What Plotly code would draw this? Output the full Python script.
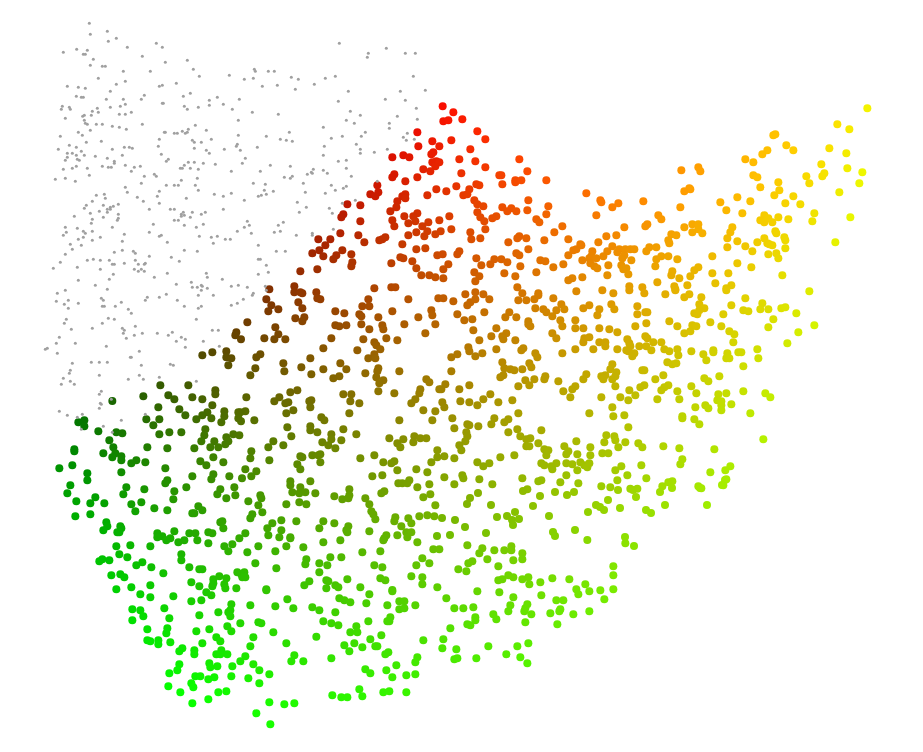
import numpy as np
import plotly.graph_objects as go

grey_a = [(148,40),(202,64),(151,73),(229,85),(205,94),(349,100),(262,112),(367,112),(110,118),(142,121),(70,127),(130,133),(136,133),(307,139),(160,148),(376,157),(442,151),(151,166),(187,169),(196,169),(460,178),(250,184),(331,184),(478,199),(568,196),(175,205),(256,214),(409,220),(229,223),(358,229),(367,226),(82,229),(115,232),(136,235),(211,244),(451,250),(313,256),(430,259),(532,262),(109,259),(124,262),(130,262),(199,268),(250,268),(304,268),(508,271),(598,268),(256,283),(367,280),(370,280),(550,283),(508,286),(67,289),(88,292),(241,289),(211,292),(172,295),(433,289),(442,298),(475,292),(577,298),(64,298),(91,298),(157,304),(175,307),(274,307),(238,313),(256,313),(128,319),(133,316),(154,316),(76,325),(133,331),(595,331),(136,340),(142,343),(169,343),(187,343),(307,343),(466,346),(217,349),(238,352),(445,358),(259,358),(151,361),(499,361),(115,367),(373,367),(376,367),(403,370),(412,370),(427,364),(436,370),(442,367),(127,376),(61,379),(595,376),(358,388),(514,388),(457,391),(463,397),(484,397),(139,397),(184,394),(592,403),(589,409),(88,406),(109,412),(355,409),(253,412),(268,412),(277,415),(217,418),(463,415),(553,418),(55,418),(499,421),(124,424),(82,430),(97,430),(508,430),(364,433),(109,436),(133,436),(166,439),(247,436),(82,442),(202,445),(385,448),(76,451),(112,448),(118,451),(379,454),(223,454),(223,460),(445,457),(463,457),(490,460),(526,463),(109,469),(256,466),(187,469),(205,472),(214,472),(283,472),(301,469),(433,466),(421,475),(427,475),(451,475),(475,478),(70,478),(97,475),(142,475),(274,484),(574,484),(148,496),(343,493),(349,499),(313,499),(46,508),(76,505),(472,505),(106,514),(424,511),(304,520),(379,526),(403,526),(415,526),(466,526),(256,532),(475,541),(262,547),(358,544),(169,556),(193,553),(523,553),(574,550),(550,559),(352,559),(196,565),(292,562),(439,565),(157,574),(310,574),(358,580),(139,586),(190,586),(235,583),(220,589),(211,592),(133,595),(202,598),(211,598),(328,598),(391,598),(403,598),(550,598)]
grey_b = [(103,19),(151,10),(178,4),(202,7),(235,13),(235,25),(232,31),(157,28),(190,22),(154,40),(430,7),(424,13),(433,16),(424,19),(457,7),(484,13),(496,7),(451,22),(403,31),(415,31),(340,43),(433,46),(490,43),(76,52),(112,55),(217,52),(157,64),(130,64),(136,70),(79,67),(70,76),(253,73),(328,67),(469,52),(592,64),(478,79),(514,82),(532,79),(130,82),(115,88),(181,82),(157,91),(247,94),(358,79),(364,76),(382,97),(556,88),(571,88),(520,100),(91,103),(124,106),(97,118),(247,121),(223,127),(280,124),(286,130),(433,121),(472,124),(76,133),(328,139),(394,142),(142,151),(160,148),(181,151),(208,151),(286,151),(418,154),(61,157),(253,160),(217,163),(223,163),(295,163),(316,160),(313,163),(112,172),(40,175),(181,178),(283,178),(304,178),(295,184),(313,184),(220,193),(382,190),(499,190),(502,202),(343,202),(208,208),(115,211),(547,208),(454,217),(409,223),(166,226),(484,226),(487,229),(457,232),(472,232),(502,235),(484,241),(574,229),(595,226),(202,238),(76,241),(52,250),(379,253),(475,256),(520,256),(322,262),(358,262),(184,265),(190,271),(316,271),(412,271),(49,274),(85,271),(73,283),(115,280),(244,277),(592,280),(574,286),(187,289),(193,289),(226,289),(433,289),(484,289),(475,295),(85,295),(265,298),(274,310),(205,325),(223,328),(469,328),(79,328),(73,340),(187,340),(286,349),(94,358),(157,355),(247,355),(253,361),(517,361),(535,361),(250,370),(307,370),(352,370),(397,367),(283,376),(385,376),(424,382),(58,382),(259,385),(436,388),(409,394),(490,394),(49,400),(106,400),(199,409),(436,412),(538,409),(22,415),(16,418),(298,424),(52,430),(271,442),(274,442),(154,457),(178,457),(202,457),(97,460),(304,466),(391,463),(400,466),(91,481),(88,490),(178,496),(298,496),(358,502),(70,505),(265,508),(310,508),(91,514),(64,523),(103,523),(469,514),(184,544),(178,553),(214,568),(181,580),(184,583),(178,595)]
grey_c = [(298,40),(439,55),(385,70),(382,82),(496,70),(526,70),(43,118),(46,124),(85,124),(103,124),(13,148),(40,145),(154,142),(175,148),(256,145),(286,139),(520,139),(67,169),(112,166),(223,163),(166,178),(325,184),(481,184),(556,181),(436,208),(295,214),(496,211),(529,235),(37,247),(115,253),(331,244),(361,256),(472,259),(319,271),(532,268),(343,280),(448,280),(448,295),(250,292),(148,307),(376,307),(502,310),(79,319),(307,319),(364,319),(490,322),(121,328),(139,331),(157,334),(274,325),(499,331),(523,328),(349,343),(52,352),(253,349),(361,358),(442,358),(361,370),(403,367),(1,361),(250,376),(16,385),(295,394),(319,391),(7,400),(91,406),(151,409),(61,424),(250,421),(319,415),(220,418),(214,427),(217,430),(262,430),(202,433),(133,442),(157,439),(151,445),(334,439),(40,460),(76,463),(190,460),(412,454),(274,466),(319,469),(310,475),(73,481),(286,481),(100,484),(196,487),(256,490),(55,499),(64,496),(79,493),(13,511),(346,511),(172,517),(307,520),(199,532),(268,535),(178,547),(277,550),(22,574),(28,586),(130,577),(115,586),(13,592),(280,598)]
grey_d = [(34,10),(103,7),(121,4),(169,16),(217,10),(217,16),(55,46),(109,64),(136,64),(55,88),(61,88),(79,106),(85,127),(55,133),(22,172),(76,169),(79,181),(40,190),(37,196),(10,208)]
grey_e = [(58,34),(82,46),(112,52),(127,43),(124,88),(244,61),(316,43),(190,79),(217,97)]

# coloured points, same reading
dots_a = [(589,367),(586,376),(559,424),(517,427),(487,436),(559,442),(574,445),(565,466),(361,526),(445,526),(526,541),(526,553),(385,556),(310,559),(457,562),(487,568),(403,568)]
dots_b = [(532,307),(577,334),(535,349),(598,349),(580,367),(574,373),(457,382),(490,376),(508,382),(589,394),(577,397),(598,397),(586,409),(550,418),(571,424),(463,433),(457,442),(532,442),(496,454),(412,466),(589,478),(391,493),(415,487),(406,499),(487,499),(496,493),(496,505),(562,496),(472,514),(322,523),(361,526),(469,532),(451,544),(532,550),(520,559),(493,559),(310,553),(304,562),(457,571),(526,574),(565,577),(361,574),(505,580),(598,571),(463,589),(547,589)]
dots_c = [(235,28),(271,28),(301,10),(355,16),(373,37),(418,31),(427,28),(436,22),(505,16),(529,7),(553,19),(562,4),(586,13),(487,43),(256,46),(217,70),(238,61),(307,61),(250,79),(289,76),(334,73),(280,88),(529,58),(556,55),(592,76),(481,82),(490,85),(337,97),(334,109),(454,100),(517,94),(181,124),(232,118),(529,115),(544,136),(568,136),(586,142),(88,178),(163,169),(163,187),(181,187),(187,190),(229,187),(403,175),(454,172),(466,172),(79,208),(232,205),(241,208),(385,208),(505,208),(595,205),(94,226),(175,217),(367,229),(388,229),(187,235),(85,244),(115,238),(286,244),(313,250),(457,244),(574,241),(358,253),(364,259),(577,256),(415,262),(535,262),(193,262),(166,265),(187,274),(22,277),(364,283),(493,283),(586,283),(286,286),(298,289),(319,286),(427,286),(430,298),(106,292),(388,298),(115,313),(556,310),(73,325),(103,328),(136,328),(3,328),(274,325),(370,328),(439,325),(472,331),(403,337),(409,346),(250,355),(352,361),(421,358),(61,373),(49,382),(403,373),(211,385),(385,385),(406,385),(130,400),(301,400),(46,415),(184,412),(250,418),(319,418),(415,415),(412,424),(133,424),(478,424),(376,430),(31,436),(214,433),(298,439),(280,445),(409,442),(430,451),(418,460),(559,448),(568,457),(415,484),(463,490),(172,481),(151,487),(310,493),(334,493),(541,478),(538,490),(598,478),(19,502),(118,502),(103,514),(145,517),(136,520),(214,511),(208,514),(331,514),(526,508),(514,520),(358,520),(211,532),(160,541),(139,550),(328,550),(550,541),(586,544),(16,544),(1,547),(43,571),(3,574),(244,562),(253,571),(478,571),(577,571)]
dots_d = [(8,49),(40,67),(10,94),(25,91),(67,88),(112,124),(136,148),(34,151),(91,178),(238,208),(58,208),(106,214),(136,232),(262,244),(64,250),(178,256),(184,256),(226,271),(226,277),(244,271),(319,271),(187,283),(109,283),(118,286),(49,289),(88,298),(19,304),(70,316),(82,313),(439,310),(481,331),(484,337),(535,340),(517,352),(610,334),(265,331),(103,331),(112,343),(130,349),(187,352),(214,355),(325,349),(202,364),(229,364),(262,361),(112,367),(319,373),(469,376),(28,379),(121,382),(169,379),(157,385),(289,388),(298,397),(133,394),(655,376),(367,409),(553,412),(622,403),(616,409),(136,418),(34,418),(2,424),(91,427),(343,427),(238,439),(232,445),(259,445),(499,439),(529,436),(121,445),(94,448),(385,448),(313,451),(205,457),(475,457),(421,463),(424,466),(265,478),(409,478),(400,481),(517,469),(457,484),(502,484),(538,478),(556,478),(571,478),(583,478),(628,472),(619,484),(649,472),(58,484),(52,493),(8,493),(229,490),(238,496),(385,496),(490,499),(532,487),(553,496),(109,505),(163,508),(184,508),(202,517),(301,511),(316,514),(427,511),(448,505),(454,499),(469,505),(547,505),(574,511),(649,508),(25,523),(124,526),(151,523),(241,529),(340,532),(370,523),(451,520),(463,529),(472,535),(505,526),(544,526),(550,538),(559,535),(646,529),(10,538),(103,547),(193,550),(289,547),(565,553),(502,556),(118,559),(226,559),(427,562),(397,565),(385,571),(10,565),(106,574),(652,577),(232,592),(568,589),(607,592)]
dots_e = [(622,55),(532,103),(568,118),(346,133),(340,136),(379,166),(322,181),(400,181),(508,175),(307,193),(559,190),(256,208),(280,217),(484,223),(115,232),(64,241),(121,244),(562,235),(607,247),(493,250),(487,259),(439,259),(280,256),(292,262),(448,280),(355,277),(598,280),(301,292),(88,295),(91,298),(73,304),(538,307),(358,301),(343,316),(400,319),(232,322),(181,337),(271,334),(376,340),(421,343),(61,352),(199,361),(247,370),(463,370),(313,376),(355,382),(385,388),(571,382),(4,388),(301,391),(313,397),(325,385),(337,397),(457,394),(97,403),(115,403),(73,412),(217,412),(115,418),(211,427),(127,430),(97,427),(346,424),(349,430),(34,433),(49,436),(202,445),(313,445),(373,442),(376,451),(25,451),(28,460),(232,454),(292,457),(526,457),(256,469),(322,460),(328,463),(337,466),(202,472),(376,475),(277,484),(325,493),(349,490),(355,505),(4,499),(25,499),(157,499),(52,508),(232,520),(274,532),(115,532),(103,541),(37,544),(34,556),(157,550),(205,550),(91,559),(58,565),(367,556),(166,580),(214,586),(43,589),(82,586),(199,595),(46,598)]
dots_f = [(10,25),(40,34),(76,13),(106,7),(130,13),(148,28),(247,10),(295,10),(295,16),(409,4),(487,1),(520,10),(568,1),(613,10),(340,25),(235,31),(259,31),(283,28),(91,37),(82,46),(106,28),(364,43),(373,58),(286,55),(349,61),(310,58),(319,67),(430,55),(448,46),(514,43),(523,58),(592,49),(478,58),(472,76),(616,67),(622,67),(592,73),(208,67),(196,82),(229,82),(52,73),(133,67),(337,79),(361,91),(406,91),(73,91),(97,88),(265,94),(265,103),(271,109),(367,109),(406,115),(430,115),(478,115),(508,118),(586,109),(619,100),(169,115),(100,121),(532,127),(337,130),(199,130),(187,139),(190,148),(154,139),(349,145),(433,145),(448,142),(430,157),(118,151),(226,151),(478,157),(496,157),(496,169),(562,148),(568,160),(616,139),(622,145),(640,157),(571,169),(598,169),(619,169),(85,172),(88,184),(169,178),(250,175),(244,181),(367,190),(406,178),(460,178),(532,178),(559,181),(565,184),(583,190),(577,199),(634,181),(127,190),(52,193),(34,202),(106,199),(286,190),(292,202),(187,217),(268,220),(274,232),(517,223),(193,235),(211,238),(223,241),(247,238),(511,238),(607,241),(613,241),(34,244),(529,247),(190,256),(181,262),(316,259),(439,253),(430,268),(496,256),(484,259),(490,268),(526,259),(517,268),(313,268),(256,271),(283,268),(355,274),(646,268),(16,283),(88,286),(268,286),(235,289),(526,289),(4,298),(58,298),(406,289),(397,298),(613,286),(601,292),(568,301),(370,304),(151,313),(586,316),(391,322),(484,322),(541,322),(130,328),(217,331),(565,331),(652,328),(61,334),(88,337),(175,337),(7,337),(13,352),(112,346),(517,352),(235,370),(448,370),(553,376),(520,379),(37,385),(163,385),(205,388),(193,397),(82,403),(88,406),(154,403),(115,409),(43,415),(232,418),(304,421),(565,412),(79,427),(205,427),(82,439),(241,439),(499,436),(523,439),(271,445),(259,448),(76,454),(409,454),(493,457),(526,451),(556,457),(295,460),(595,460),(58,466),(259,469),(268,469),(373,469),(451,472),(607,472),(535,472),(64,481),(313,478),(325,481),(385,484),(379,493),(412,493),(487,490),(505,490),(319,496),(451,496),(13,499),(181,502),(223,496),(43,505),(112,517),(148,520),(130,529),(304,520),(313,526),(349,520),(379,520),(397,523),(421,517),(433,526),(442,532),(448,520),(334,529),(337,538),(544,529),(604,526),(412,541),(526,541),(379,556),(562,556),(13,562),(67,556),(70,565),(118,568),(247,565),(619,565),(304,571),(295,574),(532,571),(361,577),(415,580),(43,583),(157,583),(484,589),(511,592),(262,598),(571,596),(592,596)]
dots_g = [(16,13),(46,1),(73,22),(88,13),(124,22),(199,1),(256,25),(448,4),(118,43),(214,46),(307,40),(133,55),(301,58),(325,58),(250,61),(265,64),(364,55),(376,52),(409,70),(103,70),(112,73),(118,61),(190,73),(340,88),(28,94),(52,109),(97,106),(109,109),(151,97),(184,109),(325,112),(463,106),(73,130),(91,124),(208,124),(223,133),(415,127),(4,157),(220,157),(382,160),(13,178),(28,184),(52,178),(94,184),(130,193),(160,181),(160,187),(292,178),(202,190),(235,187),(244,187),(55,196),(139,211),(199,205),(208,205),(295,205),(22,217),(37,223),(49,220),(250,229),(10,256),(178,259),(133,265),(145,274),(25,286),(94,289),(13,292),(4,301),(52,304),(250,304),(109,310),(175,313),(199,310),(316,310),(331,322),(58,328),(172,331),(184,334),(214,343),(136,346),(184,346),(106,352),(145,355),(184,361),(271,370),(67,379),(67,385),(103,388),(118,403),(310,448),(10,469),(58,475),(163,478),(67,508),(61,523),(211,529),(196,541),(151,547),(199,568),(37,574),(25,577),(7,589),(115,589),(190,586),(124,595)]
dots_h = [(217,3),(355,22),(517,16),(553,34),(553,49),(418,28),(436,46),(502,37),(487,46),(514,55),(469,58),(544,67),(595,37),(595,55),(133,61),(115,67),(133,79),(319,58),(358,58),(340,76),(175,94),(229,97),(247,100),(358,103),(388,97),(424,97),(496,88),(493,106),(580,103),(598,106),(208,121),(484,124),(523,124),(559,112),(565,124),(556,133),(220,142),(322,142),(382,145),(103,148),(103,154),(190,160),(463,145),(511,142),(535,142),(226,160),(217,172),(244,169),(244,181),(289,181),(274,190),(316,187),(481,184),(499,196),(520,172),(550,187),(58,205),(97,196),(376,205),(244,217),(142,220),(142,241),(457,229),(520,223),(514,238),(568,229),(382,241),(376,250),(91,256),(259,262),(313,268),(439,262),(583,262),(541,268),(403,274),(82,280),(250,283),(532,283),(586,286),(166,292),(559,295),(109,304),(151,310),(193,310),(274,313),(304,307),(400,298),(343,325),(286,334),(382,331),(475,319),(487,331),(457,340),(463,340),(106,349),(151,343),(199,367),(547,364),(541,367),(202,379),(241,379),(244,385),(550,385),(190,391),(232,397),(238,397),(403,394),(352,400),(367,409),(391,415),(448,400),(466,400),(505,397),(517,400),(598,415),(352,412),(379,421),(415,427),(433,421),(472,421),(505,430),(229,439),(271,436),(331,439),(577,433),(553,439),(565,454),(238,463),(424,463),(262,472),(187,478),(178,484),(208,481),(424,481),(307,487),(289,496),(334,502),(448,502),(487,508),(478,508)]
dots_i = [(142,22),(211,19),(211,31),(310,28),(232,37),(274,43),(274,58),(349,43),(154,49),(448,55),(523,49),(490,58),(541,55),(559,55),(520,67),(100,64),(247,67),(304,61),(472,70),(481,82),(265,76),(130,76),(85,82),(286,85),(34,94),(592,91),(592,112),(181,109),(187,112),(217,106),(241,103),(235,106),(361,115),(403,106),(31,115),(241,127),(88,121),(430,127),(463,124),(454,130),(574,127),(172,133),(181,148),(16,148),(49,154),(472,151),(529,148),(562,157),(34,169),(397,169),(427,166),(6,175),(151,184),(211,184),(151,196),(475,190),(487,190),(508,181),(502,190),(568,193),(532,202),(181,202),(157,217),(178,220),(196,217),(226,220),(328,208),(433,214),(424,220),(571,223),(61,226),(64,235),(283,229),(328,226),(307,238),(325,235),(376,235),(550,232),(25,244),(178,247),(139,253),(199,253),(388,253),(55,256),(586,256),(67,277),(394,274),(400,283),(37,283),(31,295),(538,289),(562,286),(583,289),(466,292),(406,298),(463,304),(505,295),(250,304),(124,301),(169,304),(514,310),(97,310),(283,310),(82,325),(325,319),(484,319),(238,325),(124,331),(319,331),(322,337),(388,334),(499,337),(514,337),(16,340),(85,346),(472,346),(118,352),(151,352),(151,355),(439,346),(433,355),(430,361),(502,352),(301,361),(250,367),(532,367),(55,379),(139,379),(190,382),(580,388),(598,388),(22,397),(106,394),(367,397),(421,394),(304,412),(271,412),(199,418),(547,415),(46,430),(196,433),(238,430),(262,436),(403,436),(427,442),(529,436),(568,430),(109,445),(13,457),(238,457),(4,463),(16,472),(7,472),(514,469),(547,472),(322,478),(259,481),(265,484),(208,484),(193,496),(421,475),(436,481),(547,493),(286,496),(295,502),(361,502),(592,502),(79,508),(259,505),(457,510)]
dots_j = [(442,37),(64,46),(91,43),(103,52),(220,40),(304,67),(370,58),(367,79),(370,70),(388,49),(409,55),(403,73),(406,85),(328,79),(439,85),(79,88),(124,82),(181,76),(349,97),(364,106),(151,103),(181,112),(250,109),(304,124),(334,121),(424,133),(481,136),(529,91),(127,148),(151,151),(223,145),(421,151),(415,157),(385,157),(160,169),(328,166),(421,169),(238,175),(127,181),(556,139),(592,118),(610,145),(451,190),(412,199),(505,187),(514,190),(172,208),(232,205),(229,220),(319,214),(358,208),(424,214),(550,217),(172,241),(181,244),(205,241),(205,253),(241,247),(337,250),(379,232),(391,244),(490,232),(481,259),(589,250),(277,265),(268,274),(313,271),(313,283),(394,271),(379,283),(391,283),(412,283),(466,289),(613,286),(451,304),(604,304),(640,304),(268,313),(358,310),(361,322),(382,319),(427,319),(490,313),(262,331),(508,331),(238,340),(316,349),(331,349),(424,349),(538,343),(373,352),(355,358),(475,355),(304,370),(508,370),(235,379),(310,382),(271,397),(385,397),(409,394),(355,418),(307,430),(538,427),(583,433),(613,430),(499,460),(541,493)]
dots_k = [(472,16),(517,25),(508,40),(553,31),(583,31),(604,19),(604,31),(637,40),(610,61),(637,58),(532,58),(445,88),(469,94),(475,70),(487,64),(565,79),(910,79),(910,106),(595,106),(610,112),(655,112),(637,118),(577,118),(565,121),(691,127),(727,115),(778,118),(826,133),(799,148),(805,163),(838,154),(871,151),(910,148),(502,154),(568,157),(694,166),(883,178),(610,172),(739,181),(760,181),(409,175),(652,193),(601,196),(646,205),(643,214),(595,214),(433,205),(460,205),(490,202),(664,223),(721,220),(751,208),(748,214),(790,223),(838,214),(550,223),(559,238),(496,232),(496,241),(646,247),(742,253),(472,253),(481,256),(421,265),(832,0),(946,10),(247,154),(178,163),(88,175),(103,181),(121,187),(169,190),(232,196),(268,184),(283,184),(268,208),(283,205),(316,196),(7,202),(28,211),(76,217),(241,232),(238,244),(232,244),(175,244),(40,244),(64,250),(85,256),(139,259),(121,277),(142,277),(19,290),(214,286),(181,298),(340,301),(400,298),(103,316),(133,310),(157,322),(118,334),(196,319),(202,319),(235,337),(226,343),(397,325),(439,328),(535,319),(622,319),(589,343),(631,352),(322,352),(316,367),(64,355),(433,358),(442,355),(499,355),(652,370),(166,388),(181,400),(229,391),(259,376),(247,412),(289,406),(316,403),(148,448),(67,466),(94,472),(112,472),(157,469),(220,457),(238,454),(289,457),(655,310),(658,133)]
# the strip between the crops (in px)
dots_px = [(467,504),(478,493),(491,505),(497,517),(507,516),(515,512),(519,519),(523,491),(533,506),(540,496),(555,492),(567,495),(574,492),(596,505),(604,510),(608,500),(618,490),(620,508),(633,490),(636,497),(646,510),(651,513),(660,492),(672,488),(549,516),(553,532),(575,530),(600,507),(455,520),(465,527),(442,518),(437,536),(450,535),(470,498),(486,533),(513,525),(555,536),(625,537),(634,546),(512,520),(707,505),(725,480),(722,485),(700,488),(665,505),(588,512)]

# crop origins in px, one per list above
grey_parts = [(40, 10, grey_a), (40, 210, grey_b), (240, 30, grey_c), (240, 230, grey_d), (40, 400, grey_e)]
dots_parts = [(40, 210, dots_a), (240, 30, dots_b), (240, 230, dots_c), (440, 90, dots_d), (660, 90, dots_e),
              (440, 290, dots_f), (660, 290, dots_g), (40, 400, dots_h), (240, 420, dots_i), (90, 560, dots_j),
              (310, 540, dots_k)]

# colours read at some spots of the picture: x, y, red, green
spot_x = [440, 867, 770, 836, 765, 527, 270, 180, 60, 80, 200, 270, 340, 400, 590, 720, 830, 300, 450, 600, 650, 400, 200, 350, 110, 500, 620]
spot_y = [105, 108, 135, 125, 440, 662, 725, 690, 465, 422, 355, 300, 215, 160, 195, 200, 240, 450, 380, 400, 510, 530, 560, 640, 530, 250, 330]
spot_r = [255, 255, 245, 255, 190, 90, 30, 10, 0, 0, 90, 110, 170, 230, 250, 250, 230, 100, 190, 190, 140, 110, 20, 50, 0, 230, 210]
spot_g = [0, 230, 210, 230, 240, 240, 255, 250, 130, 125, 70, 60, 50, 20, 120, 180, 240, 110, 130, 190, 230, 170, 200, 240, 190, 80, 150]


def unpack(parts):
    xs, ys = [], []
    for ox, oy, pts in parts:
        xs += [ox + p[0] / 3 for p in pts]
        ys += [oy + p[1] / 3 for p in pts]
    return np.array(xs), np.array(ys)


def terms(x, y):
    x = np.asarray(x) / 900
    y = np.asarray(y) / 750
    return np.column_stack([np.ones_like(x), x, y, x * y, x * x, y * y,
                            x * x * x, x * x * y, x * y * y, y * y * y])


grey_x, grey_y = unpack(grey_parts)
dots_x, dots_y = unpack(dots_parts)
dots_x = np.concatenate([dots_x, [p[0] for p in dots_px]])
dots_y = np.concatenate([dots_y, [p[1] for p in dots_px]])

# smooth red/green surfaces through the spots
A = terms(spot_x, spot_y)
coef_r = np.linalg.lstsq(A, np.array(spot_r, float), rcond=None)[0]
coef_g = np.linalg.lstsq(A, np.array(spot_g, float), rcond=None)[0]
B = terms(dots_x, dots_y)
red = np.clip(B @ coef_r, 0, 255).astype(int)
green = np.clip(B @ coef_g, 0, 255).astype(int)
colors = [f"rgb({r},{g},0)" for r, g in zip(red, green)]

fig = go.Figure()
fig.add_trace(go.Scatter(x=dots_x, y=dots_y, mode="markers",
                         marker=dict(size=8, color=colors, line_width=0)))
fig.add_trace(go.Scatter(x=grey_x, y=grey_y, mode="markers",
                         marker=dict(size=3, color="#a0a0a0", line_width=0)))

# page body has an 8px margin, so the plot starts at 8,8
fig.update_layout(width=907, height=736, margin=dict(l=0, r=0, t=0, b=0),
                  showlegend=False, plot_bgcolor="white", paper_bgcolor="white",
                  xaxis=dict(range=[8, 915], visible=False),
                  yaxis=dict(range=[744, 8], visible=False))

fig.write_html("out.html")
